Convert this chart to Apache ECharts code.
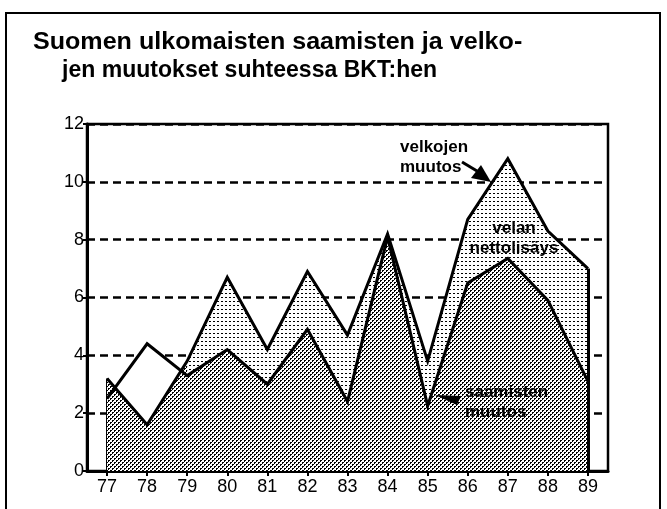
<!DOCTYPE html>
<html>
<head>
<meta charset="utf-8">
<script src="https://cdn.jsdelivr.net/npm/echarts@6/dist/echarts.min.js"></script>
<style>
html,body{margin:0;padding:0;background:#fff;}
#c{width:667px;height:509px;}
</style>
</head>
<body>
<div id="c"></div>
<script>
// ---- data ----
const years = ['77','78','79','80','81','82','83','84','85','86','87','88','89'];
const velkojenMuutos = [3.2, 1.6, 3.8, 6.7, 4.2, 6.9, 4.7, 8.2, 3.8, 8.7, 10.8, 8.3, 7.0];
const saamistenMuutos = [2.5, 4.4, 3.3, 4.2, 3.0, 4.9, 2.4, 8.1, 2.25, 6.5, 7.35, 5.9, 3.1];
const yTicks = [0, 2, 4, 6, 8, 10, 12];
const titleLines = ['Suomen ulkomaisten saamisten ja velko-', 'jen muutokset suhteessa BKT:hen'];

// years where saamisten muutos exceeds velkojen muutos (white gap region)
const crossEnd = 3;
const aEarly = saamistenMuutos.map((v, i) => i < crossEnd ? v : null);
const dEarly = velkojenMuutos.map((v, i) => i < crossEnd ? v : null);

function pattern(size, pts) {
  const cv = document.createElement('canvas');
  cv.width = size; cv.height = size;
  const ctx = cv.getContext('2d');
  ctx.fillStyle = '#fff';
  ctx.fillRect(0, 0, size, size);
  ctx.fillStyle = '#000';
  pts.forEach(p => ctx.fillRect(p[0], p[1], 1, 1));
  return { image: cv, repeat: 'repeat' };
}
const darkPat = pattern(4, [[0,0],[1,0],[0,1],[2,2],[3,2],[2,3]]);
const lightPat = pattern(4, [[1,1],[2,1]]);

const chart = echarts.init(document.getElementById('c'), null, { renderer: 'canvas' });
const FONT = '"Liberation Sans", Arial, Helvetica, sans-serif';

const areaBase = (name, data, fill, z) => ({
  name, type: 'line', data, z,
  showSymbol: false, symbol: 'none',
  lineStyle: { width: 0, opacity: 0 },
  areaStyle: { color: fill, opacity: 1, origin: 'start' },
  silent: true, animation: false
});
const lineOnly = (name, data, z, extra) => Object.assign({
  name, type: 'line', data, z,
  showSymbol: false, symbol: 'none',
  lineStyle: { width: 3, color: '#000', join: 'miter' },
  silent: true, animation: false
}, extra || {});

chart.setOption({
  animation: false,
  backgroundColor: '#fff',
  grid: { left: 87, right: 59, top: 124, bottom: 38, show: true, borderColor: '#000', borderWidth: 2.5, backgroundColor: 'transparent' },
  xAxis: {
    type: 'category', data: years, boundaryGap: true,
    axisLine: { lineStyle: { color: '#000', width: 3 } },
    axisTick: { show: true, alignWithLabel: true, length: 5, lineStyle: { color: '#000', width: 2 } },
    axisLabel: { color: '#000', fontSize: 18, fontFamily: FONT, margin: 7 },
    splitLine: { show: false }
  },
  yAxis: {
    type: 'value', min: 0, max: 12, interval: 2,
    axisLine: { show: true, lineStyle: { color: '#000', width: 3 } },
    axisTick: { show: true, length: 4, lineStyle: { color: '#000', width: 2 } },
    axisLabel: { color: '#000', fontSize: 18, fontFamily: FONT, margin: 3,
      formatter: v => yTicks.indexOf(v) >= 0 ? String(v) : '' },
    splitLine: { show: true, lineStyle: { color: '#000', width: 2.5, type: [8, 5] } }
  },
  series: [
    areaBase('velkojen muutos fill', velkojenMuutos, lightPat, 2),
    areaBase('saamisten muutos fill', saamistenMuutos, darkPat, 3),
    areaBase('gap white', aEarly, '#fff', 4),
    areaBase('gap dark', dEarly, darkPat, 5),
    lineOnly('velkojen muutos', velkojenMuutos, 6, {
      markLine: {
        symbol: 'none', silent: true, animation: false,
        lineStyle: { color: '#000', width: 3, type: 'solid' }, label: { show: false },
        data: [
          [{ coord: [years[0], 0] }, { coord: [years[0], velkojenMuutos[0]] }],
          [{ coord: [years[years.length-1], 0] }, { coord: [years[years.length-1], velkojenMuutos[velkojenMuutos.length-1]] }]
        ]
      }
    }),
    lineOnly('saamisten muutos', saamistenMuutos, 7)
  ],
  graphic: [
    { type: 'rect', shape: { x: 6, y: 13, width: 654, height: 520 }, style: { fill: 'none', stroke: '#000', lineWidth: 2 }, silent: true, z: 100 },
    { type: 'text', x: 33, y: 30, scaleX: 1.045, style: { text: titleLines[0], font: 'bold 24px ' + FONT, fill: '#000' }, z: 100 },
    { type: 'text', x: 62, y: 58, scaleX: 0.96, style: { text: titleLines[1], font: 'bold 24px ' + FONT, fill: '#000' }, z: 100 },
    { type: 'text', x: 40, y: 297, rotation: -Math.PI/2, originX: 40, originY: 297,
      style: { text: '%', font: '17px ' + FONT, fill: '#000', align: 'center', verticalAlign: 'middle' }, z: 100 },
    { type: 'text', x: 400, y: 137, style: { text: 'velkojen\nmuutos', font: 'bold 17px ' + FONT, fill: '#000', lineHeight: 20 }, z: 100 },
    { type: 'text', x: 514, y: 218, style: { text: 'velan\nnettolisäys', font: 'bold 17px ' + FONT, fill: '#000', lineHeight: 20, align: 'center' }, z: 100 },
    { type: 'text', x: 465, y: 382, style: { text: 'saamisten\nmuutos', font: 'bold 17px ' + FONT, fill: '#000', lineHeight: 20 }, z: 100 },
    { type: 'line', shape: { x1: 462, y1: 162, x2: 477, y2: 171 }, style: { stroke: '#000', lineWidth: 3 }, z: 100 },
    { type: 'polygon', shape: { points: [[491,182],[481,165],[471,178]] }, style: { fill: '#000' }, z: 100 },
    { type: 'polygon', shape: { points: [[435,395],[461,396],[457,405]] }, style: { fill: '#000' }, z: 100 }
  ]
});
</script>
</body>
</html>
